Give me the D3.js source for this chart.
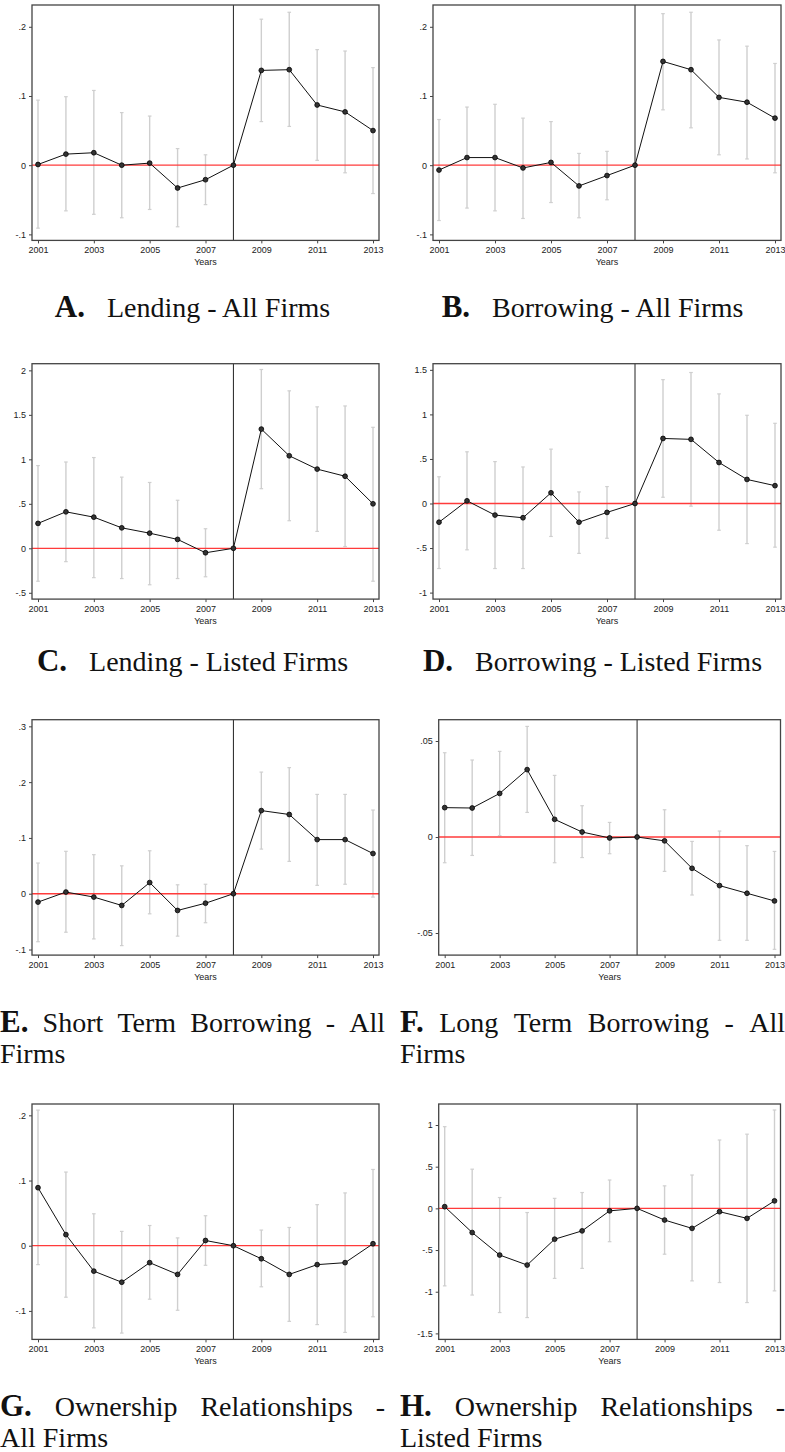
<!DOCTYPE html>
<html>
<head>
<meta charset="utf-8">
<script src="https://cdn.jsdelivr.net/npm/d3@7"></script>
<style>
    body { margin: 0; background: #fff; }
    svg { display: block; }
    .axis text { font-family: "Liberation Sans", Arial, sans-serif; font-size: 9px; fill: #222; }
    .axis line { stroke: #444; }
    .axis path { display: none; }
    .xtitle { font-family: "Liberation Sans", Arial, sans-serif; font-size: 9px; fill: #222; }
    .cap { font-family: "Liberation Serif", "DejaVu Serif", serif; font-size: 28px; fill: #111; }
    .cap-letter { font-weight: bold; font-size: 31px; }
</style>
</head>
<body>
<div id="figure"></div>
<script>
// ---- data ----
var years = [2001, 2002, 2003, 2004, 2005, 2006, 2007, 2008, 2009, 2010, 2011, 2012, 2013];
var xTickYears = [2001, 2003, 2005, 2007, 2009, 2011, 2013];

// A. Lending - All Firms
var lendAllEst = [0.001, 0.016, 0.018, 0.000, 0.003, -0.033, -0.021, 0, 0.137, 0.138, 0.087, 0.077, 0.050];
var lendAllLo  = [-0.091, -0.066, -0.071, -0.076, -0.064, -0.089, -0.057, null, 0.063, 0.056, 0.007, -0.011, -0.041];
var lendAllHi  = [0.094, 0.099, 0.108, 0.076, 0.071, 0.024, 0.015, null, 0.211, 0.221, 0.167, 0.165, 0.141];

// B. Borrowing - All Firms
var borrAllEst = [-0.007, 0.011, 0.011, -0.004, 0.004, -0.030, -0.015, 0, 0.150, 0.138, 0.098, 0.091, 0.068];
var borrAllLo  = [-0.080, -0.062, -0.066, -0.077, -0.054, -0.076, -0.050, null, 0.080, 0.054, 0.015, 0.009, -0.011];
var borrAllHi  = [0.066, 0.084, 0.088, 0.068, 0.063, 0.017, 0.020, null, 0.219, 0.221, 0.181, 0.172, 0.147];

// C. Lending - Listed Firms
var lendListEst = [0.28, 0.41, 0.35, 0.23, 0.17, 0.10, -0.05, 0, 1.34, 1.04, 0.89, 0.81, 0.50];
var lendListLo  = [-0.37, -0.15, -0.33, -0.34, -0.41, -0.34, -0.32, null, 0.67, 0.31, 0.19, 0.02, -0.37];
var lendListHi  = [0.93, 0.97, 1.02, 0.80, 0.74, 0.54, 0.22, null, 2.01, 1.77, 1.59, 1.60, 1.36];

// D. Borrowing - Listed Firms
var borrListEst = [-0.21, 0.03, -0.13, -0.16, 0.12, -0.21, -0.10, 0, 0.73, 0.72, 0.46, 0.27, 0.20];
var borrListLo  = [-0.73, -0.52, -0.73, -0.73, -0.37, -0.56, -0.39, null, 0.07, -0.03, -0.30, -0.45, -0.49];
var borrListHi  = [0.30, 0.58, 0.47, 0.41, 0.61, 0.13, 0.19, null, 1.39, 1.47, 1.23, 0.99, 0.90];

// E. Short Term Borrowing - All Firms
var stBorrEst = [-0.015, 0.003, -0.006, -0.021, 0.020, -0.030, -0.017, 0, 0.149, 0.142, 0.097, 0.097, 0.072];
var stBorrLo  = [-0.086, -0.069, -0.081, -0.093, -0.036, -0.076, -0.052, null, 0.080, 0.058, 0.015, 0.017, -0.006];
var stBorrHi  = [0.055, 0.076, 0.070, 0.050, 0.077, 0.016, 0.017, null, 0.218, 0.226, 0.178, 0.178, 0.150];

// F. Long Term Borrowing - All Firms
var ltBorrEst = [0.0153, 0.0151, 0.0227, 0.0351, 0.0092, 0.0026, -0.0005, 0, -0.0020, -0.0163, -0.0253, -0.0293, -0.0333];
var ltBorrLo  = [-0.0134, -0.0096, 0.0007, 0.0128, -0.0134, -0.0107, -0.0087, null, -0.0179, -0.0302, -0.0538, -0.0538, -0.0585];
var ltBorrHi  = [0.0439, 0.0401, 0.0446, 0.0576, 0.0321, 0.0163, 0.0076, null, 0.0142, -0.0023, 0.0031, -0.0045, -0.0075];

// G. Ownership Relationships - All Firms
var ownAllEst = [0.089, 0.017, -0.039, -0.056, -0.026, -0.044, 0.008, 0, -0.020, -0.044, -0.029, -0.026, 0.003];
var ownAllLo  = [-0.029, -0.079, -0.126, -0.134, -0.082, -0.099, -0.030, null, -0.063, -0.116, -0.121, -0.133, -0.109];
var ownAllHi  = [0.208, 0.113, 0.049, 0.022, 0.031, 0.012, 0.046, null, 0.024, 0.028, 0.063, 0.081, 0.117];

// H. Ownership Relationships - Listed Firms
var ownListEst = [0.02, -0.29, -0.56, -0.68, -0.37, -0.27, -0.03, 0, -0.14, -0.24, -0.04, -0.12, 0.09];
var ownListLo  = [-0.93, -1.04, -1.25, -1.31, -0.84, -0.72, -0.40, null, -0.55, -0.87, -0.89, -1.13, -0.99];
var ownListHi  = [0.98, 0.47, 0.13, -0.05, 0.12, 0.19, 0.34, null, 0.27, 0.40, 0.82, 0.89, 1.18];

// axis ranges and ticks
var yDomains = [[-0.1087, 0.2315], [-0.1087, 0.2315], [-0.571, 2.075], [-1.073, 1.569],
                [-0.110, 0.3119], [-0.0615, 0.0611], [-0.1437, 0.2174], [-1.572, 1.252]];
var yTicks = [[-0.1, 0, 0.1, 0.2], [-0.1, 0, 0.1, 0.2], [-0.5, 0, 0.5, 1, 1.5, 2], [-1, -0.5, 0, 0.5, 1, 1.5],
              [-0.1, 0, 0.1, 0.2, 0.3], [-0.05, 0, 0.05], [-0.1, 0, 0.1, 0.2], [-1.5, -1, -0.5, 0, 0.5, 1]];

var captionLetters = ["A", "B", "C", "D", "E", "F", "G", "H"];
var captionLines = [
    ["Lending - All Firms"],
    ["Borrowing - All Firms"],
    ["Lending - Listed Firms"],
    ["Borrowing - Listed Firms"],
    ["Short Term Borrowing - All", "Firms"],
    ["Long Term Borrowing - All", "Firms"],
    ["Ownership Relationships -", "All Firms"],
    ["Ownership Relationships -", "Listed Firms"]
];

var estimates = [lendAllEst, borrAllEst, lendListEst, borrListEst, stBorrEst, ltBorrEst, ownAllEst, ownListEst];
var lows = [lendAllLo, borrAllLo, lendListLo, borrListLo, stBorrLo, ltBorrLo, ownAllLo, ownListLo];
var highs = [lendAllHi, borrAllHi, lendListHi, borrListHi, stBorrHi, ltBorrHi, ownAllHi, ownListHi];

// ---- layout ----
var rowTops = [5, 363.7, 719.7, 1104];
var captionGap = [77, 72, 77, 77];
var plotHeight = 235.4;
var plotLefts = [32, 433, 32, 433, 32, 438.7, 32, 438.7];
var plotRights = [379, 781, 379, 781, 379, 780.5, 379, 780.5];
var colX0 = [0, 400];
var colWidth = [385, 385];

var svg = d3.select("#figure").append("svg")
    .attr("width", 785)
    .attr("height", 1452);

// stata style tick labels: .1, -.05, 1.5
function stataFmt(v) {
    var s = String(+v.toFixed(4));
    return s.replace(/^(-?)0\./, "$1.");
}

function drawPanel(i) {
    var row = Math.floor(i / 2);
    var left = plotLefts[i], right = plotRights[i];
    var top = rowTops[row], bottom = top + plotHeight;

    var x = d3.scaleLinear().domain([2001, 2013]).range([left + 6, right - 6]);
    var y = d3.scaleLinear().domain(yDomains[i]).range([bottom, top]);

    var rows = years.map(function(yr, j) {
        return {year: yr, est: estimates[i][j], lo: lows[i][j], hi: highs[i][j]};
    });
    var ciRows = rows.filter(function(d) { return d.lo != null; });

    var g = svg.append("g").attr("class", "panel");

    // confidence intervals
    g.selectAll(".ci").data(ciRows).enter().append("line")
        .attr("class", "ci")
        .attr("x1", function(d) { return x(d.year); })
        .attr("x2", function(d) { return x(d.year); })
        .attr("y1", function(d) { return y(d.lo); })
        .attr("y2", function(d) { return y(d.hi); })
        .attr("stroke", "#cfcfcf")
        .attr("stroke-width", 1.4);

    ["lo", "hi"].forEach(function(k) {
        g.selectAll(".cap-" + k).data(ciRows).enter().append("line")
            .attr("class", "cap-" + k)
            .attr("x1", function(d) { return x(d.year) - 1.8; })
            .attr("x2", function(d) { return x(d.year) + 1.8; })
            .attr("y1", function(d) { return y(d[k]); })
            .attr("y2", function(d) { return y(d[k]); })
            .attr("stroke", "#cfcfcf")
            .attr("stroke-width", 1.2);
    });

    // zero line
    g.append("line")
        .attr("x1", left).attr("x2", right)
        .attr("y1", y(0)).attr("y2", y(0))
        .attr("stroke", "#ff3b3b")
        .attr("stroke-width", 1.3);

    // 2008 reference line
    g.append("line")
        .attr("x1", x(2008)).attr("x2", x(2008))
        .attr("y1", top).attr("y2", bottom)
        .attr("stroke", "#222")
        .attr("stroke-width", 1);

    var line = d3.line()
        .x(function(d) { return x(d.year); })
        .y(function(d) { return y(d.est); });

    g.append("path")
        .datum(rows)
        .attr("fill", "none")
        .attr("stroke", "#111")
        .attr("stroke-width", 1)
        .attr("d", line);

    g.selectAll(".dot").data(rows).enter().append("circle")
        .attr("class", "dot")
        .attr("r", 2.4)
        .attr("cx", function(d) { return x(d.year); })
        .attr("cy", function(d) { return y(d.est); })
        .attr("fill", "#333")
        .attr("stroke", "#000")
        .attr("stroke-width", 0.8);

    // frame
    g.append("rect")
        .attr("x", left).attr("y", top)
        .attr("width", right - left).attr("height", bottom - top)
        .attr("fill", "none")
        .attr("stroke", "#444")
        .attr("stroke-width", 1.3);

    // axes
    g.append("g")
        .attr("class", "axis")
        .attr("transform", "translate(" + left + ",0)")
        .call(d3.axisLeft(y).tickValues(yTicks[i]).tickFormat(stataFmt).tickSize(3).tickPadding(3));

    g.append("g")
        .attr("class", "axis")
        .attr("transform", "translate(0," + bottom + ")")
        .call(d3.axisBottom(x).tickValues(xTickYears).tickFormat(d3.format("d")).tickSize(3).tickPadding(3.5));

    g.append("text")
        .attr("class", "xtitle")
        .attr("x", (left + right) / 2)
        .attr("y", bottom + 25)
        .attr("text-anchor", "middle")
        .text("Years");

    drawCaption(i, bottom + captionGap[row]);
}

function drawCaption(i, baseline) {
    var x0 = colX0[i % 2], width = colWidth[i % 2];
    var lines = captionLines[i];

    if (lines.length == 1) {
        var t = svg.append("text").attr("class", "cap").attr("y", baseline);
        t.append("tspan").attr("class", "cap-letter").text(captionLetters[i] + ".");
        t.append("tspan").attr("dx", 22).text(lines[0]);
        var w = t.node().getBBox().width;
        t.attr("x", x0 + (width - w) / 2);
        return;
    }

    // first line justified over the full width, the rest left aligned
    var words = [captionLetters[i] + "."].concat(lines[0].split(" "));
    var nodes = words.map(function(wd, j) {
        return svg.append("text")
            .attr("class", j == 0 ? "cap cap-letter" : "cap")
            .attr("y", baseline)
            .text(wd);
    });
    var widths = nodes.map(function(n) { return n.node().getComputedTextLength(); });
    var gap = (width - d3.sum(widths)) / (words.length - 1);
    var cx = x0;
    nodes.forEach(function(n, j) {
        n.attr("x", cx);
        cx += widths[j] + gap;
    });

    lines.slice(1).forEach(function(l, j) {
        svg.append("text")
            .attr("class", "cap")
            .attr("x", x0)
            .attr("y", baseline + 31 * (j + 1))
            .text(l);
    });
}

for (var i = 0; i < 8; i++) drawPanel(i);
</script>
</body>
</html>
